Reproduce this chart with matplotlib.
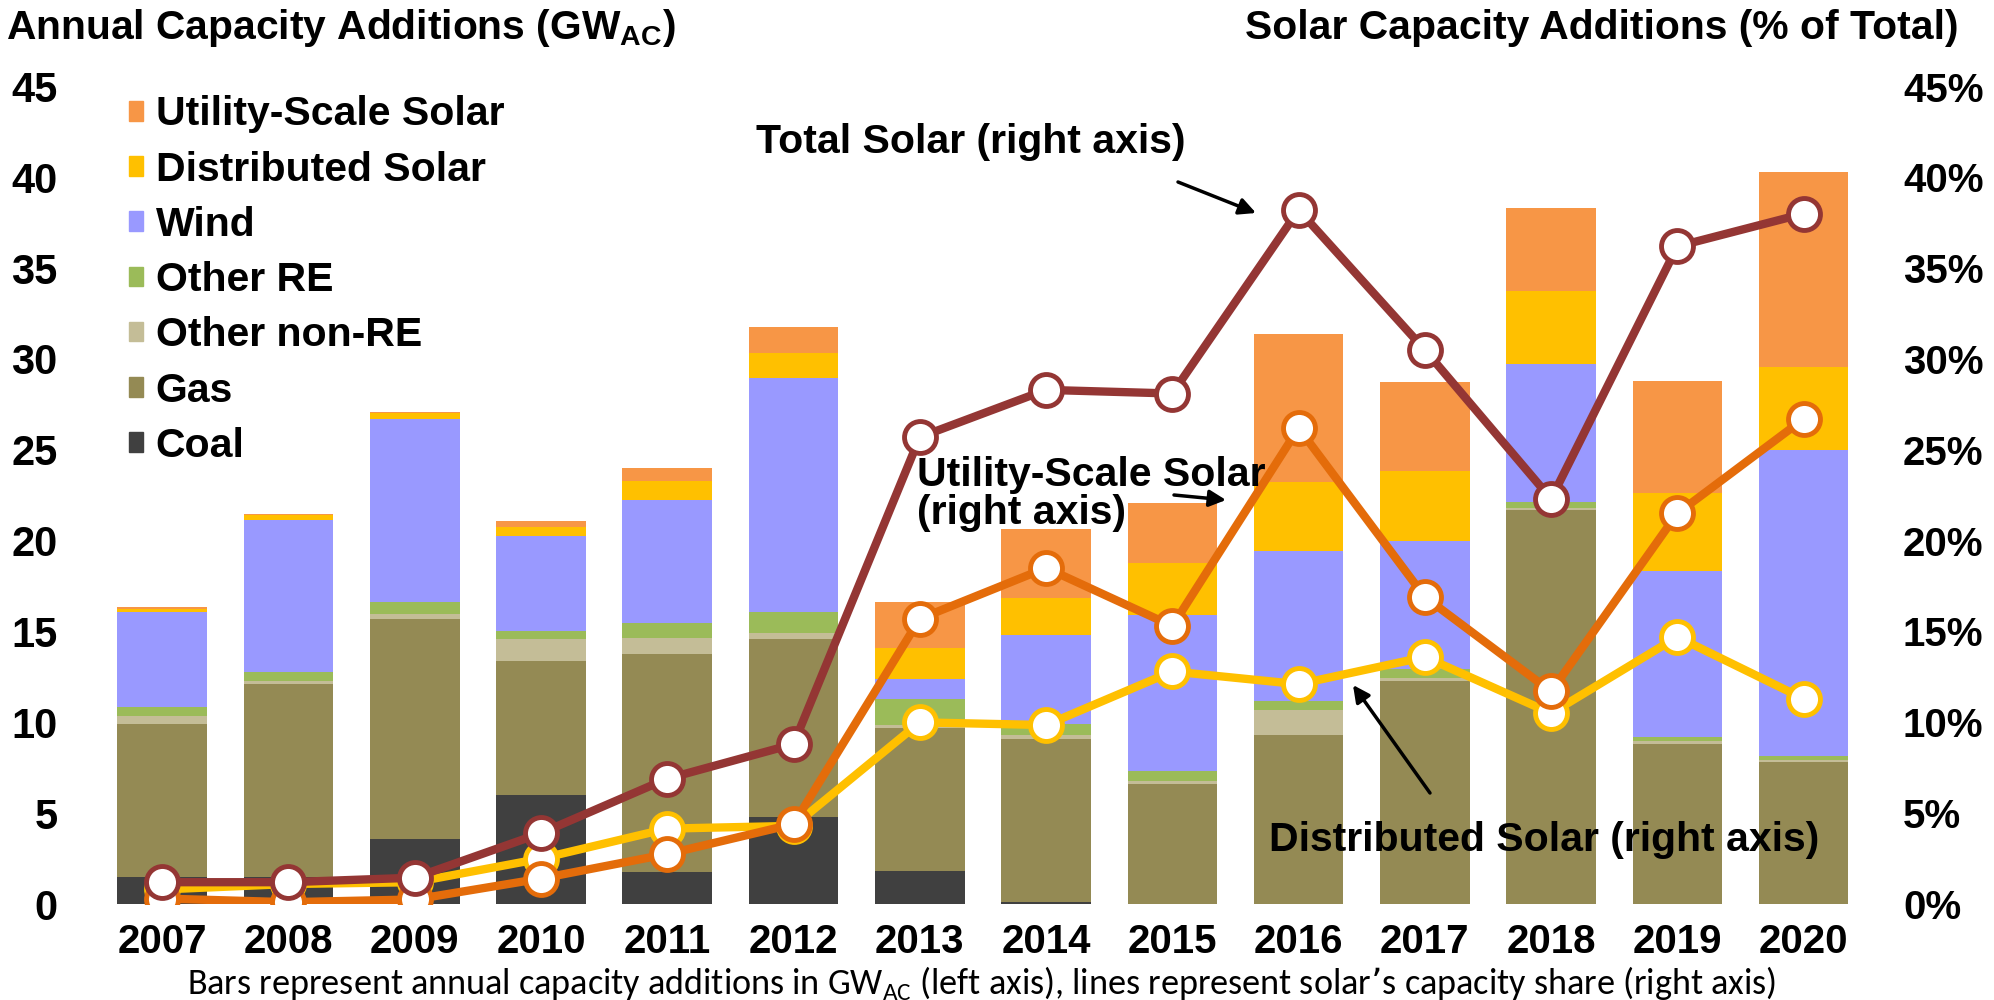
import matplotlib
matplotlib.use("Agg")
import matplotlib.pyplot as plt
from matplotlib import font_manager
from matplotlib.patches import Patch
import numpy as np

# data (GW_AC per year)
years = ["2007", "2008", "2009", "2010", "2011", "2012", "2013",
         "2014", "2015", "2016", "2017", "2018", "2019", "2020"]
coal = [1.5, 1.5, 3.6, 6.0, 1.75, 4.8, 1.8, 0.1, 0, 0, 0, 0, 0, 0]
gas = [8.4, 10.6, 12.07, 7.4, 12.0, 9.8, 7.9, 9.0, 6.6, 9.3, 12.3, 21.7, 8.8, 7.8]
other_non_re = [0.45, 0.2, 0.3, 1.2, 0.9, 0.3, 0.15, 0.2, 0.15, 1.4, 0.15, 0.1, 0.15, 0.1]
other_re = [0.5, 0.45, 0.65, 0.45, 0.8, 1.15, 1.45, 0.6, 0.55, 0.5, 0.5, 0.35, 0.25, 0.25]
wind = [5.25, 8.4, 10.07, 5.2, 6.8, 12.9, 1.1, 4.9, 8.6, 8.25, 7.05, 7.6, 9.15, 16.85]
distributed = [0.15, 0.25, 0.32, 0.5, 1.05, 1.4, 1.7, 2.05, 2.85, 3.8, 3.85, 4.0, 4.3, 4.55]
utility = [0.1, 0.07, 0.07, 0.35, 0.7, 1.4, 2.55, 3.8, 3.35, 8.1, 4.9, 4.55, 6.15, 10.75]

# solar share of total additions (%)
total_share = [1.2, 1.2, 1.45, 3.9, 6.9, 8.8, 25.7, 28.3, 28.1, 38.2, 30.5, 22.3, 36.2, 38.0]
utility_share = [0.3, 0.1, 0.25, 1.4, 2.75, 4.4, 15.7, 18.5, 15.3, 26.2, 16.9, 11.7, 21.5, 26.7]
dist_share = [0.8, 1.1, 1.2, 2.5, 4.15, 4.3, 10.0, 9.85, 12.8, 12.1, 13.6, 10.5, 14.7, 11.3]

names = set(f.name for f in font_manager.fontManager.ttflist)
narrow = "Liberation Sans Narrow" if "Liberation Sans Narrow" in names else "Liberation Sans"
wide = "Liberation Sans"
foot_font = "Carlito" if "Carlito" in names else "Lato"

c_util = "#F79646"
c_dist = "#FFC000"
c_wind = "#9999FF"
c_ore = "#9BBB59"
c_onre = "#C4BD97"
c_gas = "#948A54"
c_coal = "#404040"

fig = plt.figure(figsize=(19.94, 10), dpi=100)
ax = fig.add_axes([0.0497, 0.096, 0.8865, 0.8175])
x = np.arange(len(years))
w = 0.71

stack = [(coal, c_coal, "Coal"), (gas, c_gas, "Gas"), (other_non_re, c_onre, "Other non-RE"),
         (other_re, c_ore, "Other RE"), (wind, c_wind, "Wind"),
         (distributed, c_dist, "Distributed Solar"), (utility, c_util, "Utility-Scale Solar")]
bottom = np.zeros(len(years))
for vals, col, lab in stack:
    ax.bar(x, vals, w, bottom=bottom, color=col, edgecolor="none", zorder=2)
    bottom += np.array(vals)

ax.set_xlim(-0.5, len(years) - 0.5)
ax.set_ylim(0, 45)
ax.set_yticks(range(0, 46, 5))
ax.set_xticks(x)
ax.set_xticklabels(years, fontfamily=wide, fontweight="bold", fontsize=29)
for lab in ax.get_yticklabels():
    lab.set_fontfamily(narrow)
    lab.set_fontweight("bold")
    lab.set_fontsize(30)
ax.tick_params(axis="y", length=0, pad=30)
ax.tick_params(axis="x", length=0, pad=14)
for s in ax.spines.values():
    s.set_visible(False)

ax2 = ax.twinx()
ax2.set_ylim(0, 45)
ax2.set_yticks(range(0, 46, 5))
ax2.set_yticklabels([f"{v}%" for v in range(0, 46, 5)], fontfamily=wide,
                    fontweight="bold", fontsize=29)
ax2.tick_params(axis="y", length=0, pad=26)
for s in ax2.spines.values():
    s.set_visible(False)

mk = dict(marker="o", markersize=23, markerfacecolor="white", markeredgewidth=3.5)
ax2.plot(x, dist_share, color=c_dist, lw=6, markeredgecolor=c_dist, zorder=3, **mk)
ax2.plot(x, utility_share, color="#E46C0A", lw=6, markeredgecolor="#E46C0A", zorder=4, **mk)
ax2.plot(x, total_share, color="#943634", lw=6, markeredgecolor="#943634", zorder=5, **mk)

# legend
handles = [Patch(color=col) for _, col, _ in stack[::-1]]
labels = [lab for _, _, lab in stack[::-1]]
leg = ax2.legend(handles, labels, loc="upper left", bbox_to_anchor=(0.0542, 0.925),
                 bbox_transform=fig.transFigure, frameon=False, borderpad=0,
                 handlelength=0.36, handleheight=0.36, handletextpad=0.3,
                 labelspacing=0.42, prop=dict(family=narrow, weight="bold", size=29.5))

# titles
fig.text(0.003, 0.972, r"Annual Capacity Additions (GW$_\mathregular{AC}$)", family=narrow,
         weight="bold", fontsize=29.3, va="center", ha="left")
fig.text(0.982, 0.972, "Solar Capacity Additions (% of Total)", family=narrow,
         weight="bold", fontsize=29.4, va="center", ha="right")


def arrow(tail, head):
    ax2.annotate("", xy=(head[0] / 1994, 1 - head[1] / 1000),
                 xytext=(tail[0] / 1994, 1 - tail[1] / 1000),
                 xycoords="figure fraction", textcoords="figure fraction",
                 annotation_clip=False, zorder=10,
                 arrowprops=dict(arrowstyle="-|>", color="black", lw=2.5,
                                 mutation_scale=25, shrinkA=0, shrinkB=0))


# annotations
fig.text(0.379, 0.858, "Total Solar (right axis)", family=narrow, weight="bold",
         fontsize=29.5, va="center", ha="left", zorder=10)
arrow((1178, 182), (1256, 213))
fig.text(0.460, 0.506, "Utility-Scale Solar\n(right axis)", family=narrow, weight="bold",
         fontsize=29.5, va="center", ha="left", linespacing=1.0, zorder=10)
arrow((1174, 495), (1226, 500))
fig.text(0.6365, 0.160, "Distributed Solar (right axis)", family=narrow, weight="bold",
         fontsize=29.5, va="center", ha="left", zorder=10)
arrow((1430, 793), (1353, 685))

# footer
fig.text(0.4925, 0.017, r"Bars represent annual capacity additions in GW$_\mathregular{AC}$ (left axis), "
         "lines represent solar\u2019s capacity share (right axis)", family=foot_font,
         fontsize=26, va="center", ha="center")

fig.savefig("out.png", dpi=100)
